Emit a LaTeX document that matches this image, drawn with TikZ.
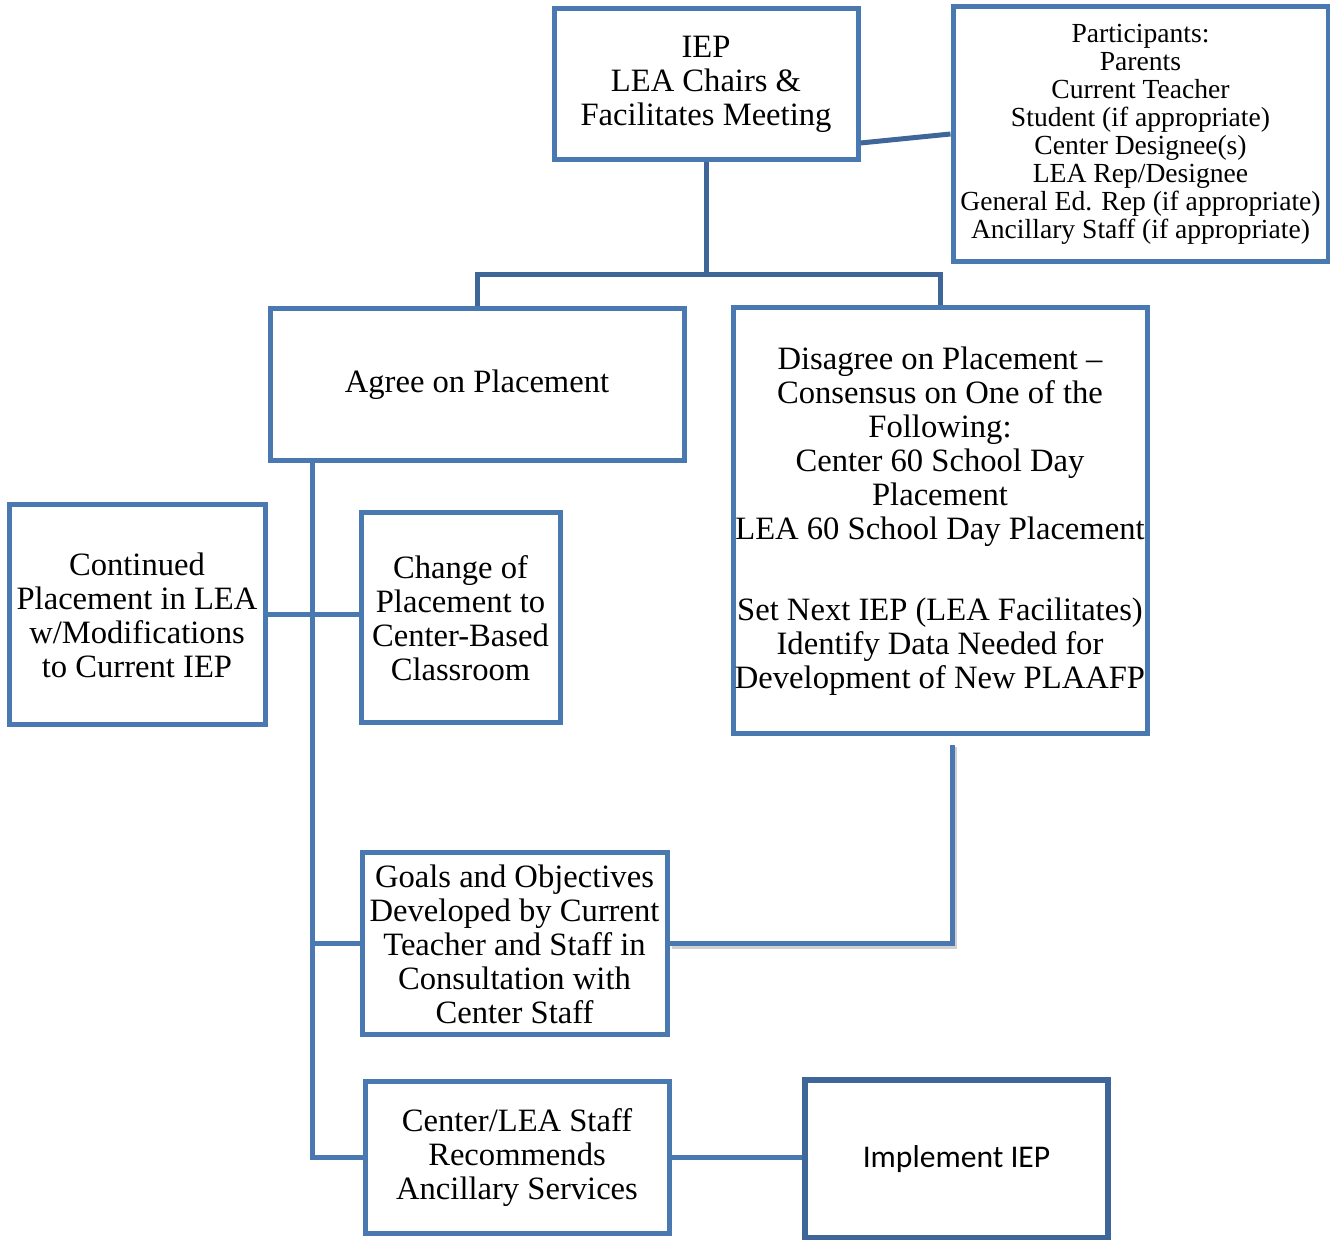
\documentclass[tikz,border=0pt]{standalone}
\usepackage{fontspec}
\setmainfont{Liberation Serif}
\newfontfamily\implfont{Carlito}
\usetikzlibrary{calc,shadows}
\definecolor{boxblue}{RGB}{74,120,176}
\definecolor{linkdark}{RGB}{62,102,152}
\begin{document}
\begin{tikzpicture}[x=0.5pt,y=-0.5pt,
  box/.style={draw=boxblue, line width=2.5pt, fill=white, align=center, inner sep=0pt,
    font=\fontsize{16.3}{17}\selectfont},
  smallbox/.style={box, font=\fontsize{13.8}{14}\selectfont},
  link/.style={draw=boxblue, line width=2.5pt},
  toplink/.style={draw=linkdark, line width=2.5pt},
  shadowlink/.style={link, preaction={draw=black, draw opacity=0.18, line width=3pt,
    transform canvas={shift={(1.2pt,-1.2pt)}}}}
]
\useasboundingbox (0,0) rectangle (1330,1240);

\node[box, minimum width=152pt, minimum height=75.5pt] (iep) at (706,84)
  {IEP\\LEA Chairs \&\\Facilitates Meeting};
\node[smallbox, minimum width=187.5pt, minimum height=127.5pt] (part) at (1140.5,134.5)
  {Participants:\\Parents\\Current Teacher\\Student (if appropriate)\\Center Designee(s)\\LEA Rep/Designee\\General Ed. Rep (if appropriate)\\Ancillary Staff (if appropriate)};
\node[box, minimum width=207pt, minimum height=76pt] (agree) at (477,385)
  {Agree on Placement};
\node[box, minimum width=207pt, minimum height=213pt] (dis) at (940,521)
  {Disagree on Placement --\\Consensus on One of the\\Following:\\Center 60 School Day\\Placement\\LEA 60 School Day Placement\\[23.5pt]Set Next IEP (LEA Facilitates)\\Identify Data Needed for\\Development of New PLAAFP};
\node[box, minimum width=128pt, minimum height=110pt] (cont) at (137,615)
  {Continued\\Placement in LEA\\w/Modifications\\to Current IEP};
\node[box, minimum width=99.5pt, minimum height=105pt] (change) at (460.5,618)
  {Change of\\Placement to\\Center-Based\\Classroom};
\node[box, minimum width=152.5pt, minimum height=91pt] (goals) at (514.5,944)
  {Goals and Objectives\\Developed by Current\\Teacher and Staff in\\Consultation with\\Center Staff};
\node[box, minimum width=152pt, minimum height=76pt] (cls) at (517,1158)
  {Center/LEA Staff\\Recommends\\Ancillary Services};
\node[box, draw=linkdark, line width=2.8pt, minimum width=151.5pt, minimum height=79pt,
  font=\implfont\fontsize{15.8}{17}\selectfont,
  drop shadow={opacity=0.3, shadow xshift=1.2pt, shadow yshift=-1.2pt}] (impl) at (956.5,1159)
  {Implement IEP};

% connectors
\draw[toplink] (iep.east |- 0,143) -- (part.west |- 0,134);
\draw[toplink] (iep.south) -- (iep.south |- 0,275);
\draw[toplink] (agree.north) -- (agree.north |- 0,275) -| (dis.north);

\draw[link] (agree.south -| 312,0) -- (cls.west -| 312,0) -- (cls.west);
\draw[link] (cont.east) -- (change.west |- cont.east);
\draw[link] (goals.west -| 312,0) -- (goals.west);

\coordinate (dtail) at (952,745);
\draw[shadowlink] (dtail) |- (goals.east);

\draw[link] (cls.east) -- (impl.west |- cls.east);
\end{tikzpicture}
\end{document}
